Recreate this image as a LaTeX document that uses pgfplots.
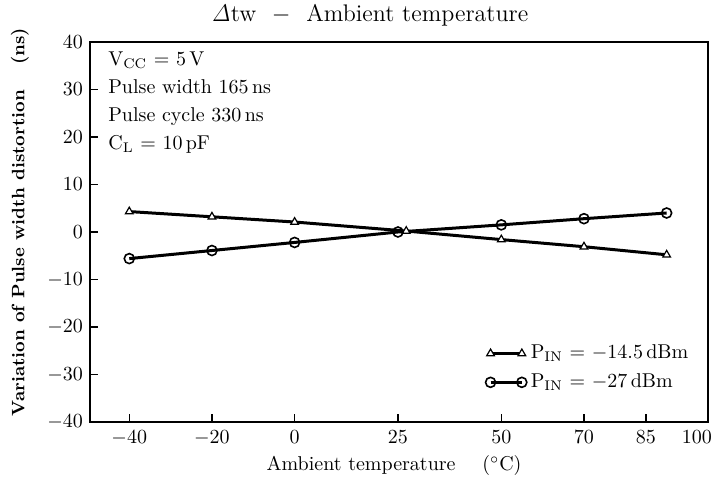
\documentclass[border=0pt]{standalone}
\usepackage{pgfplots}
\pgfplotsset{compat=1.18}
\begin{document}
\begin{tikzpicture}
\begin{axis}[
    scale only axis,
    width=309pt, height=190pt,
    xmin=-49.5, xmax=100,
    ymin=-40, ymax=40,
    xtick={-40,-20,0,25,50,70,85,100},
    xticklabels={$-40$,$-20$,$0$,$25$,$50$,$70$,$85$,\hspace*{-11pt}$100$},
    ytick={-40,-30,-20,-10,0,10,20,30,40},
    tick align=inside,
    xtick pos=bottom, ytick pos=left,
    major tick length=4pt,
    axis line style={line width=1pt},
    tick style={line width=0.7pt, black},
    xticklabel style={yshift=-1pt},
    title={$\mathit{\Delta}$tw \ $-$ \ Ambient temperature},
    title style={at={(rel axis cs:0.453,1)}, anchor=center, yshift=7.5pt, font=\large},
    xlabel={Ambient temperature \quad ($^{\circ}$C)},
    xlabel style={at={(rel axis cs:0.492,0)}, anchor=center, yshift=-22pt},
    ylabel={Variation of Pulse width distortion \quad (ns)},
    ylabel style={at={(rel axis cs:0,0.526)}, anchor=center, yshift=35pt, font=\small\bfseries},
    legend cell align=left,
    legend style={at={(rel axis cs:0.985,0.06)}, anchor=south east, draw=none, fill=none,
        row sep=2pt, font=\normalsize},
    legend image code/.code={
        \draw[#1, mark repeat=1] plot coordinates {(0cm,0cm) (0.55cm,0cm)};
    },
]
\addplot[black, line width=1.5pt, mark=triangle*, mark size=2.2pt,
    mark options={fill=white, line width=0.6pt}]
    coordinates {(-40,4.3) (-20,3.2) (0,2.1) (27,0.2) (50,-1.6) (70,-3.1) (90,-4.8)};
\addlegendentry{P$_{\mathrm{IN}}$ = $-$14.5\,dBm}
\addplot[black, line width=1.5pt, mark=o, mark size=2.5pt,
    mark options={fill=white, line width=0.8pt}]
    coordinates {(-40,-5.6) (-20,-3.9) (0,-2.2) (25,0) (50,1.5) (70,2.8) (90,4.0)};
\addlegendentry{P$_{\mathrm{IN}}$ = $-$27\,dBm}
\node[anchor=north west, align=left, inner sep=0pt, font=\normalsize]
    at (rel axis cs:0.029,0.975)
    {V$_{\mathrm{CC}}$ = 5\,V\\[2pt]
     Pulse width 165\,ns\\[2pt]
     Pulse cycle 330\,ns\\[2pt]
     C$_{\mathrm{L}}$ = 10\,pF};
\coordinate (ll) at (rel axis cs:0,0);
\coordinate (ur) at (rel axis cs:1,1);
\end{axis}
\pgfresetboundingbox
\path ([xshift=-45pt,yshift=-33.5pt]ll) rectangle ([xshift=5.5pt,yshift=21pt]ur);
\end{tikzpicture}
\end{document}
